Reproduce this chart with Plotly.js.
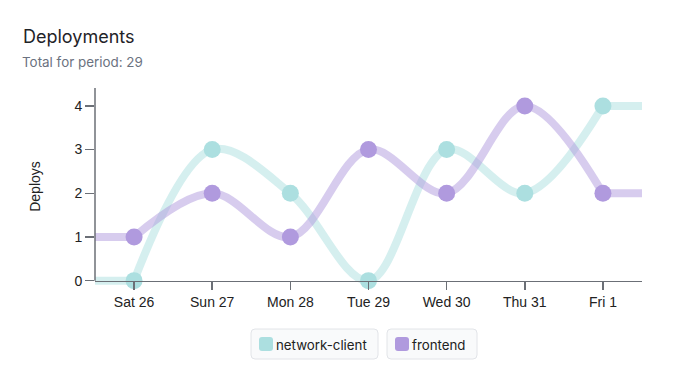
<!DOCTYPE html>
<html>
<head>
<meta charset="utf-8">
<script src="https://cdn.plot.ly/plotly-3.0.1.min.js"></script>
<style>html,body{margin:0;padding:0;background:#fff}#chart{width:673px;height:385px}</style>
</head>
<body>
<div id="chart"></div>
<script>
const categories = ['Sat 26','Sun 27','Mon 28','Tue 29','Wed 30','Thu 31','Fri 1'];
const seriesNames = ['network-client','frontend'];
const networkClient = [0,3,2,0,3,2,4];
const frontend = [1,2,1,3,2,4,2];
const yTicks = [0,1,2,3,4];

const W = 673, H = 385;
const M = {l:95, r:31, t:88, b:100};
const PW = W - M.l - M.r, PH = H - M.t - M.b;
const px = x => (x - M.l) / PW;
const py = y => (H - M.b - y) / PH;

const colors = [
  {marker:'rgb(172,223,224)', line:'rgba(172,223,224,0.5)'},
  {marker:'rgb(176,154,222)', line:'rgba(176,154,222,0.5)'}
];
const values = [networkClient, frontend];
const idx = categories.map((c,i)=>i);
const xMin = -0.5, xMax = categories.length - 0.5;

const traces = [];
values.forEach((vals, s) => {
  traces.push({x:[xMin, 0], y:[vals[0], vals[0]], mode:'lines', line:{color:colors[s].line, width:8}, showlegend:false, hoverinfo:'skip'});
  traces.push({x:[vals.length-1, xMax], y:[vals[vals.length-1], vals[vals.length-1]], mode:'lines', line:{color:colors[s].line, width:8}, showlegend:false, hoverinfo:'skip'});
});
values.forEach((vals, s) => {
  traces.push({x:idx, y:vals, name:seriesNames[s], mode:'lines', line:{color:colors[s].line, width:8, shape:'spline', smoothing:1}, showlegend:false});
});
values.forEach((vals, s) => {
  traces.push({x:idx, y:vals, name:seriesNames[s], mode:'markers', marker:{color:colors[s].marker, size:17}, cliponaxis:false, showlegend:false});
});

const total = networkClient.concat(frontend).reduce((a,b)=>a+b,0);

function roundRect(x0,y0,x1,y1,r){
  const X = v=>px(v), Y = v=>py(v);
  return `M${X(x0+r)},${Y(y0)} L${X(x1-r)},${Y(y0)} Q${X(x1)},${Y(y0)} ${X(x1)},${Y(y0+r)} L${X(x1)},${Y(y1-r)} Q${X(x1)},${Y(y1)} ${X(x1-r)},${Y(y1)} L${X(x0+r)},${Y(y1)} Q${X(x0)},${Y(y1)} ${X(x0)},${Y(y1-r)} L${X(x0)},${Y(y0+r)} Q${X(x0)},${Y(y0)} ${X(x0+r)},${Y(y0)} Z`;
}

const legendBoxes = [{x0:251,x1:378},{x0:387,x1:477}];
const shapes = [];
const annotations = [];
legendBoxes.forEach((b,i)=>{
  shapes.push({type:'path', xref:'paper', yref:'paper', path:roundRect(b.x0,329,b.x1,359,4), fillcolor:'#f9fafb', line:{color:'#e2e4e8', width:1}});
  shapes.push({type:'path', xref:'paper', yref:'paper', path:roundRect(b.x0+8,337,b.x0+22,351,3), fillcolor:colors[i].marker, line:{width:0}});
  annotations.push({xref:'paper', yref:'paper', x:px(b.x0+23), y:py(344.5), xanchor:'left', yanchor:'middle', showarrow:false, text:seriesNames[i], font:{family:'Inter, sans-serif', size:13.3, color:'#222'}});
});
shapes.push({type:'line', xref:'paper', yref:'y', x0:0, x1:0, y0:0, y1:4.41, line:{color:'#6b6f76', width:1.5}, layer:'above'});

annotations.push({xref:'paper', yref:'paper', x:px(20), y:py(62), xanchor:'left', yanchor:'middle', showarrow:false, text:'Total for period: ' + total, font:{family:'Inter, sans-serif', size:13.4, color:'#6b7280'}});

const layout = {
  width:W, height:H,
  margin:M,
  paper_bgcolor:'#fff', plot_bgcolor:'#fff',
  title:{text:'Deployments', xref:'container', yref:'container', x:23/W, xanchor:'left', y:1-36.5/H, yanchor:'middle', font:{family:'Inter, sans-serif', size:18, color:'#1f2328'}},
  xaxis:{range:[xMin,xMax], tickvals:idx, ticktext:categories, showgrid:false, zeroline:false, showline:true, linecolor:'#6b6f76', linewidth:1.5, ticks:'outside', ticklen:8, tickcolor:'#6b6f76', tickwidth:1.5, anchor:'free', position:0.1/4.51, tickfont:{family:'Liberation Sans, Arial, sans-serif', size:14, color:'#222'}, fixedrange:true},
  yaxis:{range:[-0.1,4.41], tickvals:yTicks, showgrid:false, zeroline:false, showline:false, ticks:'outside', ticklen:9, tickcolor:'#6b6f76', tickwidth:1.5, tickfont:{family:'Liberation Sans, Arial, sans-serif', size:14, color:'#222'}, title:{text:'Deploys', standoff:30, font:{family:'Liberation Sans, Arial, sans-serif', size:14, color:'#222'}}, fixedrange:true},
  shapes:shapes,
  annotations:annotations,
  showlegend:false
};
Plotly.newPlot('chart', traces, layout, {displayModeBar:false, staticPlot:true});
</script>
</body>
</html>
